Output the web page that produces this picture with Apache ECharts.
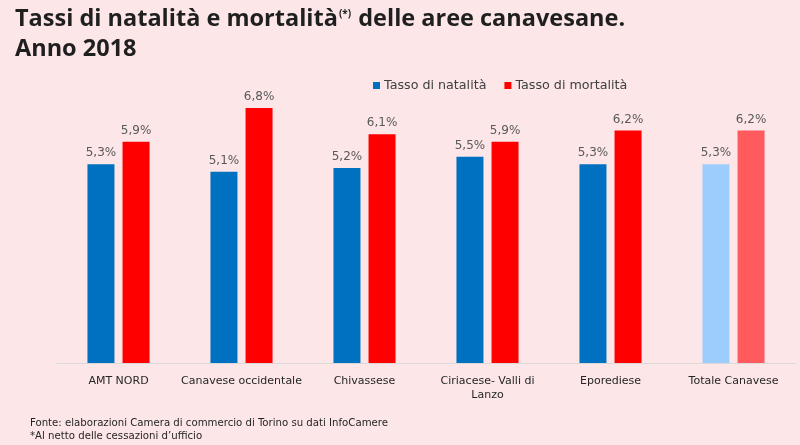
<!DOCTYPE html>
<html><head><meta charset="utf-8">
<script src="https://cdn.jsdelivr.net/npm/echarts@6/dist/echarts.min.js"></script>
<style>html,body{margin:0;padding:0;background:#fce6e8;}#c{width:800px;height:445px;}</style>
</head><body><div id="c"></div>
<script>
const categories = ['AMT NORD','Canavese occidentale','Chivassese','Ciriacese- Valli di\nLanzo','Eporediese','Totale Canavese'];
const natalita = [5.3, 5.1, 5.2, 5.5, 5.3, 5.3];
const mortalita = [5.9, 6.8, 6.1, 5.9, 6.2, 6.2];
const seriesNames = ['Tasso di natalità','Tasso di mortalità'];

const blue = '#0070c0', red = '#ff0000', lightBlue = '#9dcdfd', lightRed = '#ff5b5f';
const lastIdx = categories.length - 1;
function build(vals, hi) {
  return vals.map((v, i) => i === lastIdx ? {value: v, itemStyle: {color: hi}} : v);
}
const labelCfg = {
  show: true, position: 'top', distance: 5,
  fontFamily: 'DejaVu Sans', fontSize: 12, color: '#595959',
  formatter: p => p.value.toFixed(1).replace('.', ',') + '%'
};
const chart = echarts.init(document.getElementById('c'));
chart.setOption({
  backgroundColor: '#fce6e8',
  animation: false,
  title: {
    left: 10, top: -1,
    text: 'Tassi di natalità e mortalità{sup|(*)} delle aree canavesane.\nAnno 2018',
    textStyle: {
      fontFamily: 'Open Sans', fontWeight: 'bold', fontSize: 23.5, color: '#1f1f1f', lineHeight: 30,
      rich: { sup: { fontFamily: 'Open Sans', fontWeight: 'bold', fontSize: 10, color: '#1f1f1f', verticalAlign: 'top', lineHeight: 30, padding: [5,1,0,1] } }
    }
  },
  legend: {
    top: 74, left: 368,
    itemWidth: 7, itemHeight: 7, itemGap: 18,
    icon: 'rect',
    textStyle: { fontFamily: 'DejaVu Sans', fontSize: 12.7, color: '#404040', padding: [0,0,0,-1] },
    data: seriesNames
  },
  grid: { left: 57, right: 5, top: 63, bottom: 82, containLabel: false },
  xAxis: {
    type: 'category', data: categories,
    axisLine: { lineStyle: { color: '#d9d9d9', width: 1 } },
    axisTick: { show: false },
    axisLabel: { fontFamily: 'DejaVu Sans', fontSize: 11, color: '#262626', margin: 11, lineHeight: 14, interval: 0 }
  },
  yAxis: { type: 'value', min: 0, max: 8, show: false, splitLine: { show: false } },
  series: [
    { name: seriesNames[0], type: 'bar', data: build(natalita, lightBlue), itemStyle: { color: blue },
      barWidth: 27, barGap: '30%', label: labelCfg },
    { name: seriesNames[1], type: 'bar', data: build(mortalita, lightRed), itemStyle: { color: red },
      barWidth: 27, label: labelCfg }
  ],
  graphic: [
    { type: 'text', left: 30, top: 418, style: { text: 'Fonte: elaborazioni Camera di commercio di Torino su dati InfoCamere', font: '11.3px "DejaVu Sans Condensed", "DejaVu Sans"', fill: '#262626' } },
    { type: 'text', left: 30, top: 431, style: { text: '*Al netto delle cessazioni d\u2019ufficio', font: '11.3px "DejaVu Sans Condensed", "DejaVu Sans"', fill: '#262626' } }
  ]
});
</script></body></html>
